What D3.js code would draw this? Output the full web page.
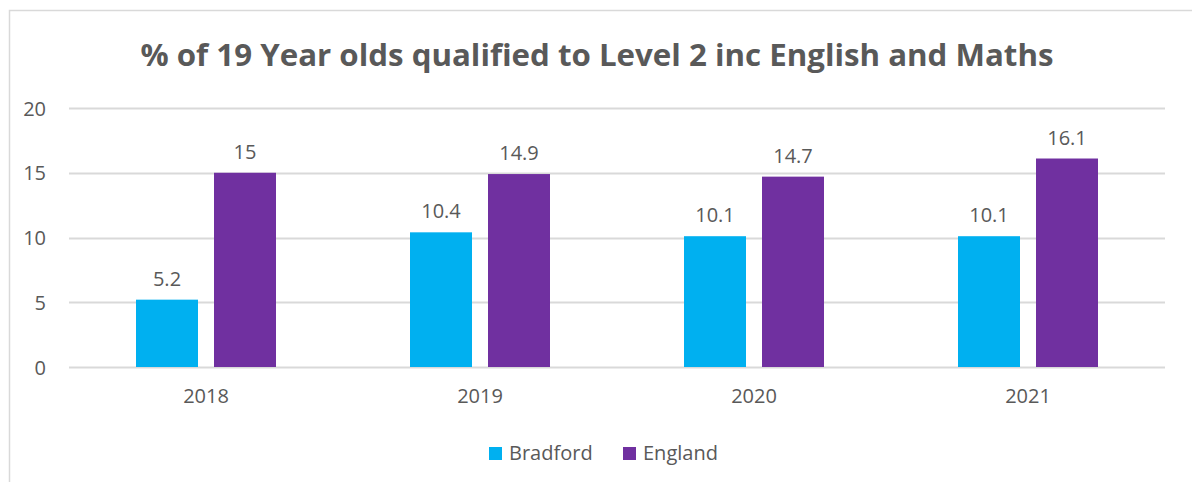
<!DOCTYPE html>
<html>
<head>
<meta charset="utf-8">
<script src="https://cdn.jsdelivr.net/npm/d3@7"></script>
<style>
  body { margin: 0; background: #fff; }
  text { font-family: "Open Sans", "Noto Sans", sans-serif; fill: #595959; }
</style>
</head>
<body>
<div id="chart"></div>
<script>
// data
var years = ["2018", "2019", "2020", "2021"];
var seriesNames = ["Bradford", "England"];
var bradford = [5.2, 10.4, 10.1, 10.1];
var england = [15, 14.9, 14.7, 16.1];
var yTicks = [0, 5, 10, 15, 20];
var colors = ["#00B0F0", "#7030A0"];

var width = 1192, height = 482;
var plot = {left: 69, right: 1165, top: 108, bottom: 367};

var svg = d3.select("#chart").append("svg")
    .attr("width", width)
    .attr("height", height);

// chart frame (cropped on the right and bottom)
svg.append("path")
    .attr("d", "M9.5," + height + "V10.5H" + width)
    .attr("fill", "none")
    .attr("stroke", "#d9d9d9")
    .attr("stroke-width", 1.5);

svg.append("text")
    .attr("x", 597)
    .attr("y", 66)
    .attr("text-anchor", "middle")
    .attr("font-size", 30)
    .attr("font-weight", "bold")
    .attr("textLength", 913)
    .attr("lengthAdjust", "spacingAndGlyphs")
    .text("% of 19 Year olds qualified to Level 2 inc English and Maths");

var x = d3.scaleBand()
    .domain(years)
    .range([plot.left, plot.right]);

var y = d3.scaleLinear()
    .domain([0, 20])
    .range([plot.bottom, plot.top]);

// gridlines
svg.append("g")
    .selectAll("line")
    .data(yTicks)
    .enter().append("line")
    .attr("x1", plot.left)
    .attr("x2", plot.right)
    .attr("y1", d => Math.round(y(d)) + 0.5)
    .attr("y2", d => Math.round(y(d)) + 0.5)
    .attr("stroke", "#d9d9d9")
    .attr("stroke-width", 2);

// y axis labels
var yAxis = svg.append("g")
    .attr("transform", "translate(46,0)")
    .call(d3.axisLeft(y).tickValues(yTicks).tickSize(0).tickPadding(0));
yAxis.select(".domain").remove();
yAxis.selectAll("text")
    .attr("font-size", 20)
    .attr("font-family", null)
    .attr("fill", "#595959")
    .attr("dy", "0.35em");

// x axis labels
var xAxis = svg.append("g")
    .attr("transform", "translate(0," + plot.bottom + ")")
    .call(d3.axisBottom(x).tickSize(0).tickPadding(22));
xAxis.select(".domain").remove();
xAxis.selectAll("text")
    .attr("font-size", 20)
    .attr("font-family", null)
    .attr("fill", "#595959");

var barW = 62, gap = 16;
var series = [bradford, england];

series.forEach(function(vals, s) {
    var offset = s === 0 ? -(barW + gap / 2) : gap / 2;
    var g = svg.append("g");
    g.selectAll("rect")
        .data(vals)
        .enter().append("rect")
        .attr("x", (d, i) => x(years[i]) + x.bandwidth() / 2 + offset)
        .attr("y", d => y(d))
        .attr("width", barW)
        .attr("height", d => y(0) - y(d))
        .attr("fill", colors[s]);
    g.selectAll("text")
        .data(vals)
        .enter().append("text")
        .attr("x", (d, i) => x(years[i]) + x.bandwidth() / 2 + offset + barW / 2)
        .attr("y", d => y(d) - 14)
        .attr("text-anchor", "middle")
        .attr("font-size", 20)
        .text(d => d);
});

// legend
var legendX = [489, 623];
var legend = svg.append("g");
seriesNames.forEach(function(name, i) {
    legend.append("rect")
        .attr("x", legendX[i])
        .attr("y", 447)
        .attr("width", 13)
        .attr("height", 13)
        .attr("fill", colors[i]);
    legend.append("text")
        .attr("x", legendX[i] + 20)
        .attr("y", 460)
        .attr("font-size", 20)
        .text(name);
});
</script>
</body>
</html>
